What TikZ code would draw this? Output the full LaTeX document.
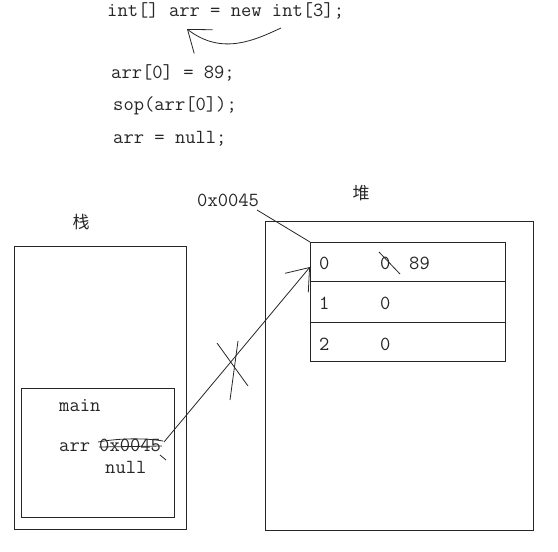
\documentclass[tikz,border=0pt]{standalone}
\usepackage{fontspec}
\newfontfamily\cjk{Noto Sans CJK SC}
\usetikzlibrary{arrows.meta}
\begin{document}
\begin{tikzpicture}[x=1pt,y=-1pt,
  ln/.style={draw=black!85,line width=0.8pt},
  code/.style={inner sep=0pt,anchor=base west,font=\ttfamily\fontsize{20}{22}\selectfont,text=black!85},
  han/.style={inner sep=0pt,font=\cjk\fontsize{17}{18}\selectfont,text=black!85},
  barb/.style={-{Straight Barb[length=20pt,width=30pt,line width=0.8pt]}}]
\useasboundingbox (0,0) rectangle (558,552);
% code lines
\node[code] (l1) at (107,16) {int[] arr = new int[3];};
\node[code] (l2) at (111,78) {arr[0] = 89;};
\node[code] (l3) at (113,110) {sop(arr[0]);};
\node[code] (l4) at (113,143) {arr = null;};
\coordinate (ca) at (281,28);
\coordinate (cb) at (187,29);
\draw[ln,barb] (ca) .. controls (255,40) and (222,56) .. (cb);
% labels
\node[han] (dui) at (361,193) {堆};
\node[han] (zhan) at (81,222) {栈};
\node[code] (addr) at (197,206) {0x0045};
% stack
\node[ln,minimum width=172pt,minimum height=283pt,inner sep=0pt,anchor=north west] (stack) at (14,246) {};
\node[ln,minimum width=153pt,minimum height=129pt,inner sep=0pt,anchor=north west] (frame) at (21,388) {};
\node[code] (main) at (59,411) {main};
\node[code] (arr) at (59,451) {arr};
\node[code] (val) at (99,451) {0x0045};
\node[code] (null) at (105,473) {null};
\draw[ln] (98,442) .. controls (120,438) and (145,438) .. (163,441);
\draw[ln] (99,447) -- (162,446);
\draw[ln] (160,455) -- (166,460);
% heap
\node[ln,minimum width=268pt,minimum height=309pt,inner sep=0pt,anchor=north west] (heap) at (265,221) {};
\node[ln,minimum width=195pt,minimum height=39pt,inner sep=0pt,anchor=north west] (r0) at (310,242) {};
\node[ln,minimum width=195pt,minimum height=41pt,inner sep=0pt,anchor=north west] (r1) at (310,281) {};
\node[ln,minimum width=195pt,minimum height=39pt,inner sep=0pt,anchor=north west] (r2) at (310,322) {};
\node[code] (i0) at (319,269) {0};
\node[code] (v0) at (380,269) {0};
\node[code] (v0n) at (409,269) {89};
\node[code] (i1) at (319,309) {1};
\node[code] (v1) at (380,309) {0};
\node[code] (i2) at (319,350) {2};
\node[code] (v2) at (380,350) {0};
\draw[ln] (379,252) -- (400,274);
% address label leader
\draw[ln] (257,210) -- (r0.north west);
% pointer
\coordinate (pstart) at (164,442);
\coordinate (pend) at (310,267);
\draw[ln,barb] (pstart) -- (pend);
% cross
\draw[ln] (217,343) -- (248,386);
\draw[ln] (238,341) -- (230,400);
\end{tikzpicture}
\end{document}
